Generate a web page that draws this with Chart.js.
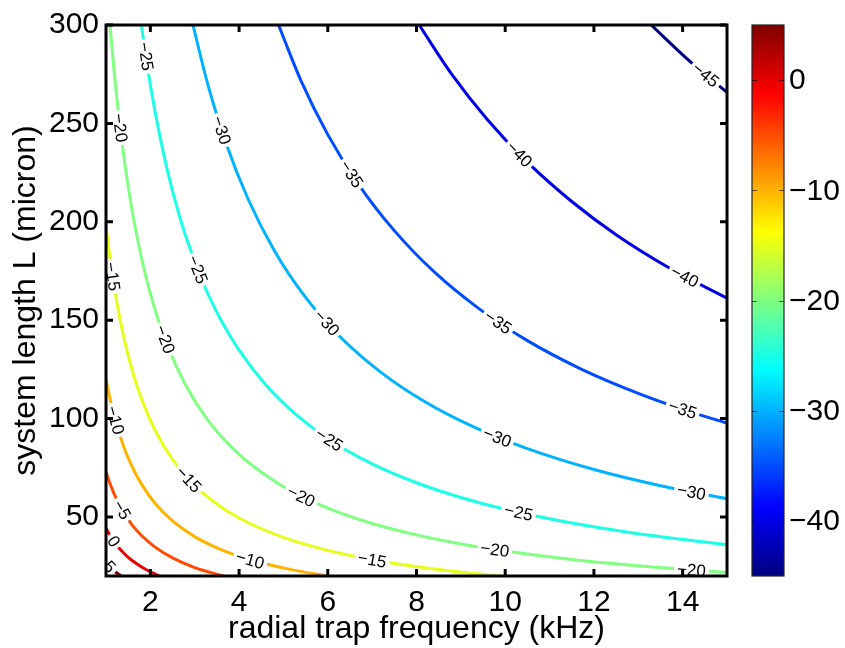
<!DOCTYPE html>
<html>
<head>
<meta charset="utf-8">
<script src="https://cdn.jsdelivr.net/npm/chart.js@4.4.1/dist/chart.umd.min.js"></script>
<style>
  body { margin: 0; background: #fff; }
</style>
</head>
<body>
<canvas id="myChart" width="845" height="648"></canvas>
<script>
// contour levels and the points of each line (x in kHz, y in micron)
const levels = [5, 0, -5, -10, -15, -20, -25, -30, -35, -40, -45];

const line5   = [[1,26.8],[1.1,24.4],[1.2,22.3],[1.34,20]];
const line0   = [[1,44.3],[1.1,40.3],[1.2,36.9],[1.35,32.8],[1.5,29.5],[1.7,26.1],[1.9,23.3],[2.2,20.1]];
const lineM5  = [[1,73],[1.1,66.4],[1.25,58.4],[1.4,52.1],[1.6,45.6],[1.8,40.6],[2.1,34.8],[2.5,29.2],[3,24.3],[3.65,20]];
const lineM10 = [[1,120],[1.1,109.1],[1.25,96],[1.4,85.7],[1.6,75],[1.8,66.7],[2.1,57.1],[2.5,48],[3,40],[3.5,34.3],[4,30],[4.5,26.7],[5.2,23.1],[6,20]];
const lineM15 = [[1,198],[1.1,180],[1.25,158.4],[1.4,141.4],[1.6,123.8],[1.8,110],[2.1,94.3],[2.5,79.2],[3,66],[3.5,56.6],[4,49.5],[5,39.6],[6,33],[7,28.3],[8.5,23.3],[9.9,20]];
const lineM20 = [[1.09,300],[1.2,272.5],[1.35,242.2],[1.5,218],[1.7,192.4],[2,163.5],[2.4,136.3],[2.8,116.8],[3.3,99.1],[4,81.8],[5,65.4],[6,54.5],[7,46.7],[8,40.9],[9,36.3],[10,32.7],[11.5,28.4],[13,25.2],[15,21.8]];
const lineM25 = [[1.8,299.4],[2,269.5],[2.25,239.6],[2.5,215.6],[2.8,192.5],[3.2,168.4],[3.6,149.7],[4,134.8],[4.6,117.2],[5.3,101.7],[6,89.8],[7,77],[8,67.4],[9,59.9],[10,53.9],[11.5,46.9],[13,41.5],[15,35.9]];
const lineM30 = [[2.96,300],[3.3,269.4],[3.7,240.3],[4.2,211.7],[4.8,185.2],[5.5,161.6],[6.3,141.1],[7.2,123.5],[8.2,108.4],[9.3,95.6],[10.5,84.7],[12,74.1],[13.5,65.9],[15,59.3]];
const lineM35 = [[4.89,300],[5.4,271.5],[6,244.3],[6.7,218.8],[7.5,195.5],[8.4,174.5],[9.4,156],[10.5,139.6],[11.7,125.3],[13,112.8],[14,104.7],[15,97.7]];
const lineM40 = [[8.06,300],[8.8,274.8],[9.6,251.9],[10.5,230.3],[11.5,210.3],[12.5,193.4],[13.7,176.5],[15,161.2]];
const lineM45 = [[13.29,300],[14.1,282.8],[15,265.8]];

// where the inline labels sit on each line
const labels5   = [[1.05,24]];
const labels0   = [[1.14,37]];
const labelsM5  = [[1.32,53]];
const labelsM10 = [[1.21,99],[4.24,27]];
const labelsM15 = [[1.09,172],[2.82,68],[6.99,27.4]];
const labelsM20 = [[1.25,248],[2.28,140],[5.37,60],[9.76,32.6],[14.2,22.7]];
const labelsM25 = [[1.87,284],[3.05,175.5],[6,88],[10.28,52.3]];
const labelsM30 = [[3.57,246],[5.93,148],[9.8,89.4],[14.2,61.3]];
const labelsM35 = [[6.5,224],[9.8,148.5],[14,104]];
const labelsM40 = [[10.26,233.4],[14.04,172]];
const labelsM45 = [[14.5,273.6]];

const xTicks = [2, 4, 6, 8, 10, 12, 14];
const yTicks = [50, 100, 150, 200, 250, 300];
const cbTicks = [0, -10, -20, -30, -40];
const cbMin = -45, cbMax = 5;

const contourLines = [line5, line0, lineM5, lineM10, lineM15, lineM20, lineM25, lineM30, lineM35, lineM40, lineM45];
const contourLabels = [labels5, labels0, labelsM5, labelsM10, labelsM15, labelsM20, labelsM25, labelsM30, labelsM35, labelsM40, labelsM45];

const FONT = '"Liberation Sans", Arial, Helvetica, sans-serif';

function jet(t) {
    const c = v => Math.round(255 * Math.max(0, Math.min(1, v)));
    return 'rgb(' + c(1.5 - Math.abs(4*t - 3)) + ',' + c(1.5 - Math.abs(4*t - 2)) + ',' + c(1.5 - Math.abs(4*t - 1)) + ')';
}
function levelColor(v) {
    return jet((v - cbMin) / (cbMax - cbMin));
}
function minusText(v) {
    return v < 0 ? '\u2212' + Math.abs(v) : String(v);
}

// sample the drawn bezier path of a line into a dense pixel polyline
function densePath(meta) {
    const pts = meta.data;
    const out = [];
    for (let i = 0; i < pts.length - 1; i++) {
        const a = pts[i], b = pts[i + 1];
        const c1x = a.cp2x ?? a.x, c1y = a.cp2y ?? a.y;
        const c2x = b.cp1x ?? b.x, c2y = b.cp1y ?? b.y;
        for (let k = 0; k < 30; k++) {
            const t = k / 30, u = 1 - t;
            out.push([
                u*u*u*a.x + 3*u*u*t*c1x + 3*u*t*t*c2x + t*t*t*b.x,
                u*u*u*a.y + 3*u*u*t*c1y + 3*u*t*t*c2y + t*t*t*b.y
            ]);
        }
    }
    const last = pts[pts.length - 1];
    out.push([last.x, last.y]);
    return out;
}

const contourLabelPlugin = {
    id: 'contourLabels',
    afterDatasetsDraw(chart) {
        const ctx = chart.ctx;
        const area = chart.chartArea;
        const xs = chart.scales.x, ys = chart.scales.y;

        ctx.save();
        ctx.beginPath();
        ctx.rect(area.left, area.top, area.right - area.left, area.bottom - area.top);
        ctx.clip();
        ctx.font = '17px ' + FONT;
        ctx.textAlign = 'center';
        ctx.textBaseline = 'middle';

        chart.data.datasets.forEach((ds, i) => {
            const path = densePath(chart.getDatasetMeta(i));
            contourLabels[i].forEach(p => {
                const tx = xs.getPixelForValue(p[0]);
                const ty = ys.getPixelForValue(p[1]);
                let best = 0, bestD = Infinity;
                for (let j = 0; j < path.length; j++) {
                    const d = (path[j][0] - tx) ** 2 + (path[j][1] - ty) ** 2;
                    if (d < bestD) { bestD = d; best = j; }
                }
                const j0 = Math.max(0, best - 2), j1 = Math.min(path.length - 1, best + 2);
                let ang = Math.atan2(path[j1][1] - path[j0][1], path[j1][0] - path[j0][0]);
                if (ang > Math.PI / 2) ang -= Math.PI;
                if (ang < -Math.PI / 2) ang += Math.PI;
                const txt = minusText(levels[i]);
                const w = ctx.measureText(txt).width;
                ctx.save();
                ctx.translate(path[best][0], path[best][1]);
                ctx.rotate(ang);
                ctx.fillStyle = '#fff';
                ctx.fillRect(-w / 2 - 3, -6, w + 6, 12);
                ctx.fillStyle = '#000';
                ctx.fillText(txt, 0, 1);
                ctx.restore();
            });
        });
        ctx.restore();

        // axes box with inward ticks on all four sides
        ctx.save();
        ctx.strokeStyle = '#000';
        ctx.lineWidth = 3;
        ctx.strokeRect(area.left, area.top, area.right - area.left, area.bottom - area.top);
        ctx.beginPath();
        xTicks.forEach(v => {
            const px = xs.getPixelForValue(v);
            ctx.moveTo(px, area.bottom); ctx.lineTo(px, area.bottom - 7);
            ctx.moveTo(px, area.top); ctx.lineTo(px, area.top + 7);
        });
        yTicks.forEach(v => {
            const py = ys.getPixelForValue(v);
            ctx.moveTo(area.left, py); ctx.lineTo(area.left + 7, py);
            ctx.moveTo(area.right, py); ctx.lineTo(area.right - 7, py);
        });
        ctx.stroke();
        ctx.restore();
    }
};

const colorbarPlugin = {
    id: 'colorbar',
    afterDraw(chart) {
        const ctx = chart.ctx;
        const area = chart.chartArea;
        const left = 752, right = 784;
        const top = area.top, bottom = area.bottom;
        const yOf = v => top + (cbMax - v) / (cbMax - cbMin) * (bottom - top);

        ctx.save();
        const grad = ctx.createLinearGradient(0, bottom, 0, top);
        for (let k = 0; k <= 64; k++) grad.addColorStop(k / 64, jet(k / 64));
        ctx.fillStyle = grad;
        ctx.fillRect(left, top, right - left, bottom - top);
        ctx.strokeStyle = '#222';
        ctx.lineWidth = 1.2;
        ctx.strokeRect(left, top, right - left, bottom - top);

        ctx.beginPath();
        ctx.strokeStyle = 'rgba(0,0,0,0.6)';
        cbTicks.forEach(v => {
            const y = Math.round(yOf(v)) + 0.5;
            ctx.moveTo(left, y); ctx.lineTo(left + 5, y);
            ctx.moveTo(right, y); ctx.lineTo(right - 5, y);
        });
        ctx.stroke();

        ctx.fillStyle = '#000';
        ctx.font = '30px ' + FONT;
        ctx.textAlign = 'left';
        ctx.textBaseline = 'middle';
        cbTicks.forEach(v => ctx.fillText(minusText(v), right + 5, yOf(v) + 1));
        ctx.restore();
    }
};

const ctx = document.getElementById('myChart').getContext('2d');
const myChart = new Chart(ctx, {
    type: 'scatter',
    data: {
        datasets: contourLines.map((pts, i) => ({
            data: pts.map(p => ({ x: p[0], y: p[1] })),
            showLine: true,
            borderColor: levelColor(levels[i]),
            borderWidth: 3,
            pointRadius: 0,
            cubicInterpolationMode: 'monotone',
            fill: false
        }))
    },
    options: {
        responsive: false,
        animation: false,
        events: [],
        layout: { padding: { top: 21, right: 118, left: 0, bottom: 0 } },
        plugins: {
            legend: { display: false },
            tooltip: { enabled: false }
        },
        scales: {
            x: {
                type: 'linear',
                min: 1,
                max: 15,
                afterBuildTicks: scale => { scale.ticks = xTicks.map(v => ({ value: v })); },
                afterFit: scale => { scale.height = 72; },
                grid: { display: false, drawTicks: false },
                border: { display: false },
                ticks: {
                    autoSkip: false,
                    maxRotation: 0,
                    padding: 9,
                    color: '#000',
                    font: { family: FONT, size: 30 }
                },
                title: {
                    display: true,
                    text: 'radial trap frequency (kHz)',
                    color: '#000',
                    font: { family: FONT, size: 32 },
                    padding: { top: 0, bottom: 0 }
                }
            },
            y: {
                type: 'linear',
                min: 20,
                max: 300,
                afterBuildTicks: scale => { scale.ticks = yTicks.map(v => ({ value: v })); },
                afterFit: scale => { scale.width = 106; },
                grid: { display: false, drawTicks: false },
                border: { display: false },
                ticks: {
                    autoSkip: false,
                    padding: 7,
                    color: '#000',
                    font: { family: FONT, size: 30 }
                },
                title: {
                    display: true,
                    text: 'system length L (micron)',
                    color: '#000',
                    font: { family: FONT, size: 32 },
                    padding: { top: 7, bottom: 0 }
                }
            }
        }
    },
    plugins: [contourLabelPlugin, colorbarPlugin]
});
</script>
</body>
</html>
